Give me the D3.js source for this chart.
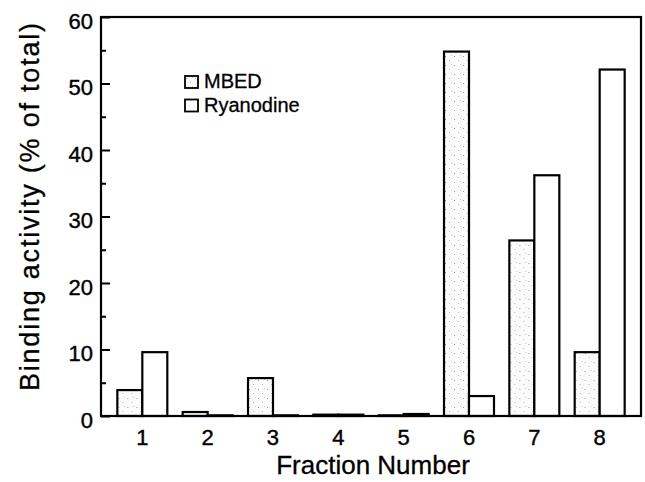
<!DOCTYPE html>
<html>
<head>
<meta charset="utf-8">
<script src="https://cdn.jsdelivr.net/npm/d3@7"></script>
<style>
  body { margin: 0; background: #fff; }
  svg { display: block; font-family: "Liberation Sans", Arial, sans-serif; }
</style>
</head>
<body>
<script>
// data
var fractions = ["1", "2", "3", "4", "5", "6", "7", "8"];
var seriesNames = ["MBED", "Ryanodine"];
var mbedValues = [3.9, 0.6, 5.7, 0.2, 0.1, 54.8, 26.4, 9.6];
var ryanodineValues = [9.6, 0.1, 0.1, 0.2, 0.3, 3.0, 36.2, 52.1];
var yTicks = [0, 10, 20, 30, 40, 50, 60];
var yMinorTicks = [5, 15, 25, 35, 45, 55];

function drawChart() {
    var width = 645, height = 482;
    var left = 101, right = 641, top = 17, bottom = 416;

    var svg = d3.select("body").append("svg")
        .attr("width", width)
        .attr("height", height);

    // stippled fill for the MBED bars
    var pat = svg.append("defs").append("pattern")
        .attr("id", "stipple")
        .attr("patternUnits", "userSpaceOnUse")
        .attr("width", 9).attr("height", 9);
    pat.append("rect").attr("width", 9).attr("height", 9).attr("fill", "#fbfbfb");
    pat.append("rect").attr("x", 1).attr("y", 2).attr("width", 1).attr("height", 1).attr("fill", "#a0a0a0");
    pat.append("rect").attr("x", 5).attr("y", 6).attr("width", 1).attr("height", 1).attr("fill", "#bbbbbb");
    pat.append("rect").attr("x", 7).attr("y", 1).attr("width", 1).attr("height", 1).attr("fill", "#cfcfcf");

    var x = d3.scaleBand().domain(fractions).range([left, right])
        .paddingInner(0.235).paddingOuter(0.25);
    var xSub = d3.scaleBand().domain(seriesNames).range([0, x.bandwidth()]);
    var y = d3.scaleLinear().domain([0, 60]).range([bottom, top]);

    var fills = { "MBED": "url(#stipple)", "Ryanodine": "#fff" };

    var rows = fractions.map(function(f, i) {
        return { fraction: f, values: [
            { name: "MBED", value: mbedValues[i] },
            { name: "Ryanodine", value: ryanodineValues[i] }
        ]};
    });

    // bars
    var groups = svg.selectAll("g.fraction").data(rows).enter()
        .append("g").attr("class", "fraction")
        .attr("transform", function(d) { return "translate(" + x(d.fraction) + ",0)"; });

    groups.selectAll("rect").data(function(d) { return d.values; }).enter()
        .append("rect")
        .attr("x", function(d) { return xSub(d.name); })
        .attr("y", function(d) { return y(d.value); })
        .attr("width", xSub.bandwidth())
        .attr("height", function(d) { return bottom - y(d.value); })
        .attr("fill", function(d) { return fills[d.name]; })
        .attr("stroke", "#000")
        .attr("stroke-width", 2.2);

    // frame
    svg.append("rect")
        .attr("x", left).attr("y", top)
        .attr("width", right - left).attr("height", bottom - top)
        .attr("fill", "none").attr("stroke", "#000").attr("stroke-width", 2.2);

    // y axis, ticks pointing inward
    var yAxis = d3.axisLeft(y).tickValues(yTicks).tickSize(-9).tickPadding(8);
    var gy = svg.append("g").attr("transform", "translate(" + left + ",0)").call(yAxis);
    gy.select(".domain").remove();
    gy.selectAll("line").attr("stroke-width", 2);
    gy.selectAll("text").attr("font-size", 22).attr("dy", "0.5em").attr("fill", "#000")
        .attr("stroke", "#000").attr("stroke-width", 0.4);

    var gyMinor = svg.append("g").attr("transform", "translate(" + left + ",0)")
        .call(d3.axisLeft(y).tickValues(yMinorTicks).tickSize(-5).tickFormat(""));
    gyMinor.select(".domain").remove();
    gyMinor.selectAll("line").attr("stroke-width", 2);

    // x axis labels only
    var gx = svg.append("g").attr("transform", "translate(0," + bottom + ")")
        .call(d3.axisBottom(x).tickSize(0).tickPadding(13));
    gx.select(".domain").remove();
    gx.selectAll("text").attr("font-size", 22).attr("fill", "#000")
        .attr("stroke", "#000").attr("stroke-width", 0.4);

    // axis titles
    svg.append("text")
        .attr("x", (left + right) / 2 + 2).attr("y", 474)
        .attr("text-anchor", "middle").attr("font-size", 26)
        .attr("stroke", "#000").attr("stroke-width", 0.3)
        .text("Fraction Number");

    svg.append("text")
        .attr("transform", "translate(39," + 207 + ") rotate(-90)")
        .attr("text-anchor", "middle").attr("font-size", 27)
        .attr("stroke", "#000").attr("stroke-width", 0.3)
        .attr("textLength", 368).attr("lengthAdjust", "spacing")
        .text("Binding activity (% of total)");

    // legend
    var legend = svg.selectAll("g.legend").data(seriesNames).enter()
        .append("g").attr("class", "legend")
        .attr("transform", function(d, i) { return "translate(185," + (76 + i * 23.5) + ")"; });
    legend.append("rect")
        .attr("width", 13).attr("height", 12)
        .attr("fill", function(d) { return fills[d]; })
        .attr("stroke", "#000").attr("stroke-width", 1.8);
    legend.append("text")
        .attr("x", 19).attr("y", 12)
        .attr("font-size", 20)
        .attr("stroke", "#000").attr("stroke-width", 0.3)
        .text(function(d) { return d; });
}

drawChart();
</script>
</body>
</html>
